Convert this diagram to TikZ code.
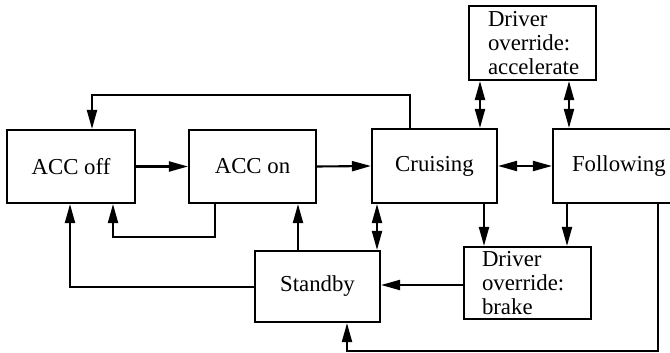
\documentclass[tikz,border=0pt]{standalone}
\usepackage{fontspec}
\setmainfont{Liberation Serif}
\usetikzlibrary{arrows.meta}
\begin{document}
\begin{tikzpicture}[x=1pt,y=-1pt,
  box/.style={draw,line width=2.1pt,inner sep=0pt,font=\fontsize{22.8}{24}\selectfont},
  ln/.style={line width=2.1pt},
  arr/.style={ln,-{Triangle[length=19pt,width=10pt]}},
  darr/.style={ln,{Triangle[length=19pt,width=10pt]}-{Triangle[length=19pt,width=10pt]}}]
\useasboundingbox (0,0) rectangle (670,353);
\clip (0,0) rectangle (670,353);
\node[box,minimum width=128pt,minimum height=73pt] (off) at (71,166.5) {ACC off};
\node[box,minimum width=127pt,minimum height=73pt] (on) at (252.5,166.5) {ACC on};
\node[box,minimum width=125pt,minimum height=74pt] (cru) at (434.5,166) {Cruising};
\node[box,minimum width=140pt,minimum height=74pt,text width=102pt,align=left] (fol) at (623,166) {Following};
\node[box,minimum width=127pt,minimum height=74pt,text width=89pt,align=left] (acc) at (532.5,43) {Driver\\override:\\accelerate};
\node[box,minimum width=127pt,minimum height=72pt,text width=91pt,align=left] (brk) at (527.5,283) {Driver\\override:\\brake};
\node[box,minimum width=125pt,minimum height=71pt] (stb) at (317.5,286.5) {Standby};
% top loop cruising -> acc off
\draw[arr] (cru.north -| 410,0) -- (410,95) -- (92,95) -- (off.north -| 92,0);
% main row
\draw[arr] (off.east) -- (on.west);
\draw[arr] (on.east) -- (cru.west);
\draw[darr] (cru.east) -- (fol.west);
% accelerate links
\draw[darr] (cru.north -| 480,0) -- (acc.south -| 480,0);
\draw[darr] (fol.north -| 569,0) -- (acc.south -| 569,0);
% acc on -> acc off
\draw[arr] (on.south -| 215,0) -- (215,237) -- (113,237) -- (off.south -| 113,0);
% standby -> acc off
\draw[arr] (stb.west |- 0,287) -- (70,287) -- (off.south -| 70,0);
% standby -> acc on
\draw[arr] (stb.north -| 298,0) -- (on.south -| 298,0);
% standby <-> cruising
\draw[darr] (stb.north -| 377,0) -- (cru.south -| 377,0);
% to brake
\draw[arr] (cru.south -| 484,0) -- (brk.north -| 484,0);
\draw[arr] (fol.south -| 567,0) -- (brk.north -| 567,0);
% brake -> standby
\draw[arr] (brk.west |- 0,285) -- (stb.east |- 0,285);
% following -> standby
\draw[arr] (fol.south -| 658,0) -- (658,351) -- (347,351) -- (stb.south -| 347,0);
\end{tikzpicture}
\end{document}
